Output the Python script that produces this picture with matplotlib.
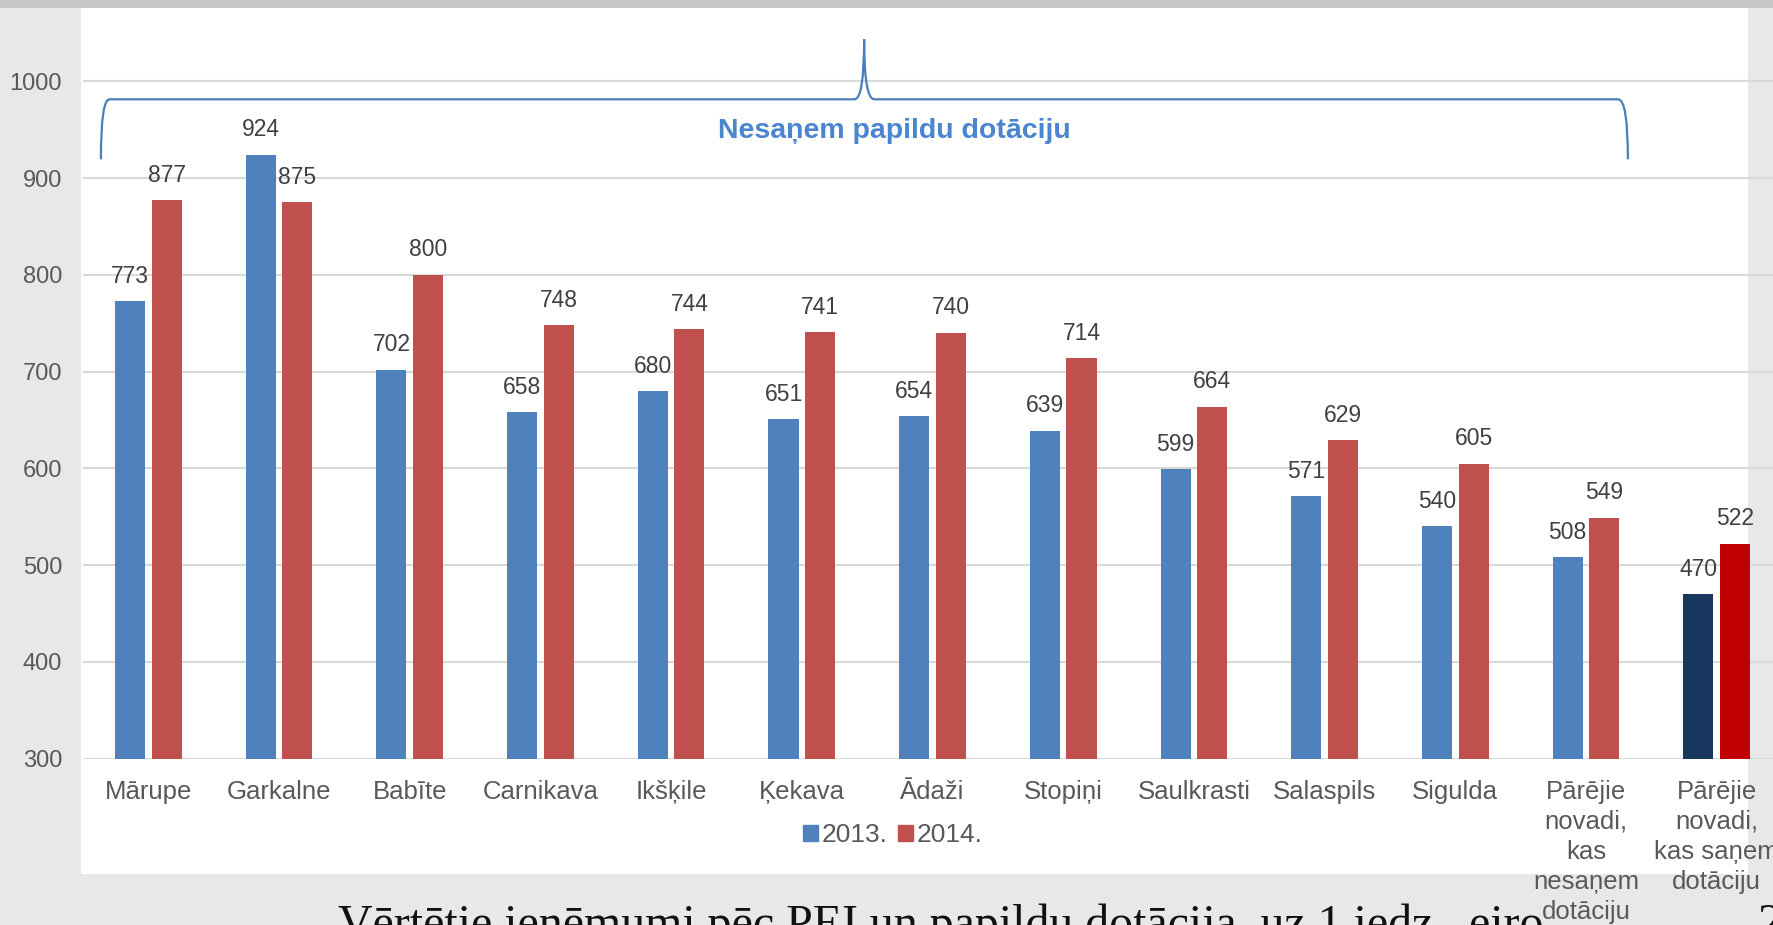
import matplotlib
matplotlib.use("Agg")
from matplotlib import pyplot as plt
from matplotlib.patches import Rectangle, Patch, PathPatch
from matplotlib.path import Path
import numpy as np

plt.rcParams['font.family'] = ['Liberation Sans', 'DejaVu Sans']

categories = ['Mārupe', 'Garkalne', 'Babīte', 'Carnikava', 'Ikšķile', 'Ķekava',
              'Ādaži', 'Stopiņi', 'Saulkrasti', 'Salaspils', 'Sigulda',
              'Pārējie\nnovadi,\nkas\nnesaņem\ndotāciju',
              'Pārējie\nnovadi,\nkas saņem\ndotāciju']
values_2013 = [773, 924, 702, 658, 680, 651, 654, 639, 599, 571, 540, 508, 470]
values_2014 = [877, 875, 800, 748, 744, 741, 740, 714, 664, 629, 605, 549, 522]
yticks = [300, 400, 500, 600, 700, 800, 900, 1000]

blue = '#4f81bd'
red = '#c0504d'
colors_2013 = [blue] * 12 + ['#17375e']
colors_2014 = [red] * 12 + ['#c00000']

W, H = 1773, 925
fig = plt.figure(figsize=(W / 100, H / 100), dpi=100, facecolor='#e8e8e8')

# slide decorations: top band and white chart panel
fig.patches.append(Rectangle((0, 1 - 8 / H), 1, 8 / H, transform=fig.transFigure,
                             facecolor='#c8c8c8', edgecolor='none', zorder=-2))
fig.patches.append(Rectangle((81 / W, 1 - 874 / H), (1748 - 81) / W, (874 - 8) / H,
                             transform=fig.transFigure, facecolor='white',
                             edgecolor='none', zorder=-1))

ax = fig.add_axes([83 / W, 1 - 758.7 / H, 1699 / W, 754.7 / H])
ax.set_facecolor('none')

x = np.arange(len(categories))
w = 0.23
off = 0.14
ax.bar(x - off, np.array(values_2013) - 300, w, bottom=300, color=colors_2013, zorder=2)
ax.bar(x + off, np.array(values_2014) - 300, w, bottom=300, color=colors_2014, zorder=2)

for xs, vals in ((x - off, values_2013), (x + off, values_2014)):
    for xi, v in zip(xs, vals):
        ax.annotate(str(v), (xi, v), xytext=(0, 18), textcoords='offset points',
                    ha='center', va='center', fontsize=16.5, color='#404040')

ax.set_xlim(-0.5, len(categories) - 0.5)
ax.set_ylim(300, 1080)
ax.set_yticks(yticks)
ax.set_xticks(x)
ax.set_xticklabels(categories, fontsize=18.5, color='#595959', linespacing=1.32)
ax.tick_params(axis='x', length=0, pad=15)
ax.tick_params(axis='y', length=0, pad=15, labelsize=17, labelcolor='#595959')
for s in ax.spines.values():
    s.set_visible(False)
ax.grid(axis='y', color='#d9d9d9', linewidth=1.5, zorder=0)
ax.set_axisbelow(True)

# curly brace over the first twelve groups
L, R, pk = -0.363, 11.321, 5.477
yb, yt, yp = 919.5, 981.5, 1043.5
verts = [(L, yb), (L, yt), (L + 0.066, yt),
         (pk - 0.074, yt), (pk, yt), (pk, yp),
         (pk, yt), (pk + 0.077, yt),
         (R - 0.075, yt), (R, yt), (R, yb)]
codes = [Path.MOVETO, Path.CURVE3, Path.CURVE3,
         Path.LINETO, Path.CURVE3, Path.CURVE3,
         Path.CURVE3, Path.CURVE3,
         Path.LINETO, Path.CURVE3, Path.CURVE3]
ax.add_patch(PathPatch(Path(verts, codes), facecolor='none', edgecolor='#4a7ebb',
                       linewidth=1.6, clip_on=False, zorder=3))
ax.text(5.71, 941.5, 'Nesaņem papildu dotāciju', ha='center', va='baseline',
        fontsize=20.5, fontweight='bold', color='#4a86d0')

handles = [Patch(color=blue, label='2013.'), Patch(color=red, label='2014.')]
fig.legend(handles=handles, loc='center', bbox_to_anchor=(893 / W, 1 - 835 / H),
           frameon=False, ncol=2, fontsize=19, handlelength=0.55, handleheight=0.55,
           handletextpad=0.15, columnspacing=0.4, labelcolor='#595959')

fig.text(338 / W, 1 - 903 / H, 'Vērtētie ieņēmumi pēc PEI un papildu dotācija, uz 1 iedz., eiro',
         family='Liberation Serif', fontsize=34.5, color='#111111', ha='left', va='top', zorder=-0.5)
fig.text(1758 / W, 1 - 903 / H, '2', family='Liberation Serif', fontsize=34.5,
         color='#111111', ha='left', va='top', zorder=-0.5)

fig.savefig('out.png', dpi=100, facecolor=fig.get_facecolor())
